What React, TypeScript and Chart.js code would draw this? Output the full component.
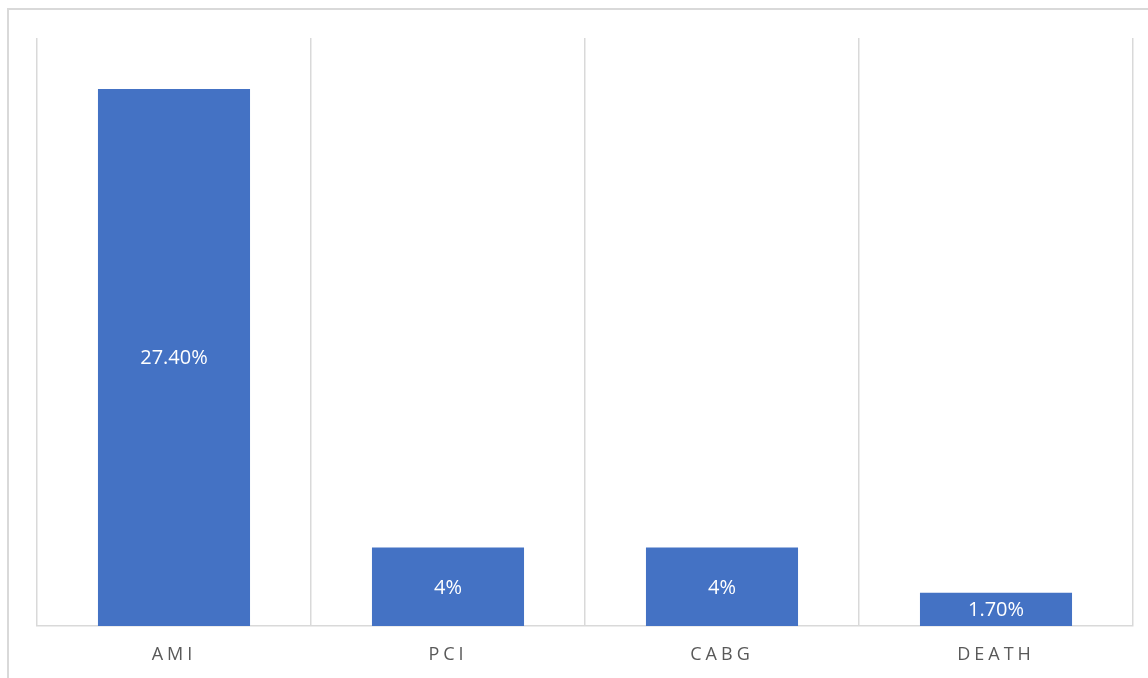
import React, { useEffect, useRef } from "react";
import { Chart, registerables } from "chart.js";

Chart.register(...registerables);

const categories = ["AMI", "PCI", "CABG", "DEATH"];
const values = [27.4, 4, 4, 1.7];
const valueLabels = ["27.40%", "4%", "4%", "1.70%"];
const yMax = 30;

const GRID = "#d9d9d9";
const BAR = "#4472c4";

const letterSpacingPlugin = {
  id: "letterSpacing",
  beforeDraw(chart: any) {
    (chart.ctx as any).letterSpacing = "4px";
  },
  afterDatasetsDraw(chart: any) {
    const ctx = chart.ctx as any;
    ctx.save();
    ctx.letterSpacing = "0px";
    ctx.fillStyle = "#ffffff";
    ctx.font = "20px 'Open Sans'";
    ctx.textAlign = "center";
    ctx.textBaseline = "middle";
    const meta = chart.getDatasetMeta(0);
    meta.data.forEach((bar: any, i: number) => {
      const p = bar.getProps(["x", "y", "base"], true);
      ctx.fillText(valueLabels[i], p.x, (p.y + p.base) / 2 + 1);
    });
    ctx.restore();
  },
};

export default function App() {
  const ref = useRef<HTMLCanvasElement | null>(null);
  useEffect(() => {
    if (!ref.current) return;
    const chart = new Chart(ref.current, {
      type: "bar",
      data: {
        labels: categories,
        datasets: [
          {
            data: values,
            backgroundColor: BAR,
            borderWidth: 0,
            categoryPercentage: 1,
            barPercentage: 0.555,
          },
        ],
      },
      options: {
        responsive: false,
        animation: false,
        events: [],
        layout: { padding: { left: 37, top: 38, right: 15, bottom: 0 } },
        plugins: { legend: { display: false }, tooltip: { enabled: false } },
        scales: {
          x: {
            grid: { color: GRID, lineWidth: 1.5, drawTicks: false, offset: true },
            border: { color: GRID, width: 1.5 },
            ticks: {
              color: "#595959",
              font: { family: "'Open Sans'", size: 18 },
              padding: 18,
            },
            afterFit: (scale: any) => {
              scale.height = 52;
            },
          },
          y: { display: false, min: 0, max: yMax },
        },
      },
      plugins: [letterSpacingPlugin],
    });
    return () => chart.destroy();
  }, []);
  return (
    <>
      <div
        style={{
          position: "fixed",
          left: 7,
          top: 8,
          width: 2000,
          height: 2000,
          border: "2px solid #d9d9d9",
          boxSizing: "border-box",
        }}
      />
      <canvas
        ref={ref}
        width={1148}
        height={678}
        style={{ position: "fixed", left: 0, top: 0, width: 1148, height: 678 }}
      />
    </>
  );
}
